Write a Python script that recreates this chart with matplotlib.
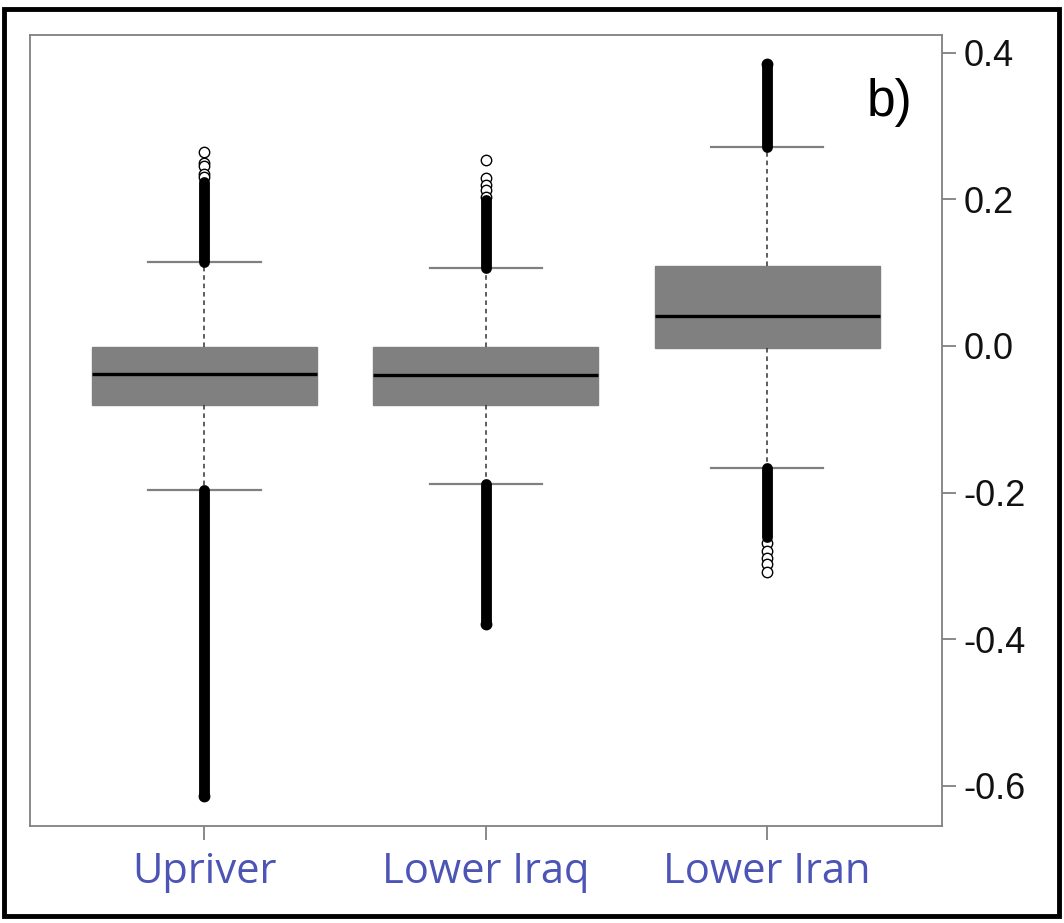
import numpy as np
import matplotlib
matplotlib.use("Agg")
import matplotlib.pyplot as plt
from matplotlib.patches import Rectangle

plt.rcParams['axes.unicode_minus'] = False

# values
labels = ['Upriver', 'Lower Iraq', 'Lower Iran']
q1 = [-0.080, -0.080, -0.003]
med = [-0.039, -0.040, 0.041]
q3 = [-0.001, -0.001, 0.109]
whislo = [-0.196, -0.189, -0.166]
whishi = [0.114, 0.106, 0.272]
# ranges where the outlier circles overlap into a solid column
dense_hi = [(0.114, 0.223), (0.106, 0.199), (0.272, 0.385)]
dense_lo = [(-0.614, -0.196), (-0.380, -0.189), (-0.261, -0.166)]
# separate outlier circles that can be told apart
sparse = [
    [0.264, 0.250, 0.245, 0.235, 0.230, -0.614],
    [0.253, 0.229, 0.219, 0.212, 0.203, -0.380],
    [0.385, -0.269, -0.280, -0.289, -0.298, -0.309],
]
yticks = [-0.6, -0.4, -0.2, 0.0, 0.2, 0.4]

fig = plt.figure(figsize=(10.64, 9.23), dpi=100)
ax = fig.add_axes([0.0282, 0.105, 0.8568, 0.857])

stats = []
for i, name in enumerate(labels):
    stats.append(dict(label=name, q1=q1[i], med=med[i], q3=q3[i],
                      whislo=whislo[i], whishi=whishi[i], fliers=sparse[i]))

grey = '#808080'
ax.bxp(stats, positions=[1, 2, 3], widths=0.8, patch_artist=True,
       boxprops=dict(facecolor=grey, edgecolor=grey, linewidth=1),
       medianprops=dict(color='black', linewidth=2.4),
       whiskerprops=dict(color='#333333', linewidth=1.1, linestyle=(0, (3, 2.5))),
       capprops=dict(color=grey, linewidth=1.6),
       capwidths=0.4,
       flierprops=dict(marker='o', markersize=7.5, markerfacecolor='white',
                       markeredgecolor='black', markeredgewidth=1.0))

# solid columns of overlapping outliers
for i in range(3):
    for lo, hi in (dense_hi[i], dense_lo[i]):
        lc = ax.vlines(i + 1, lo, hi, color='black', linewidth=7.8, zorder=3)
        lc.set_capstyle('round')

ax.set_xlim(0.38, 3.62)
ax.set_ylim(-0.655, 0.424)

ax.yaxis.tick_right()
ax.set_yticks(yticks)
ax.set_yticklabels([f'{v:.1f}' for v in yticks], fontsize=26,
                   family='Liberation Sans', color='#111111')
ax.set_xticks([1, 2, 3])
ax.set_xticklabels(labels, fontsize=30, family='Open Sans', color='#4c54b6')
ax.tick_params(axis='y', length=10, width=1.3, color=grey, pad=6)
ax.tick_params(axis='x', length=10, width=1.3, color=grey, pad=8)
for sp in ax.spines.values():
    sp.set_color(grey)
    sp.set_linewidth(1.3)

ax.text(0.943, 0.915, 'b)', transform=ax.transAxes, fontsize=37,
        family='Liberation Sans', ha='center', va='center')

# black frame around the whole panel
fig.patches.append(Rectangle((0.004, 0.008), 0.991, 0.982, transform=fig.transFigure,
                             fill=False, edgecolor='black', linewidth=3.5))

fig.savefig('out.png', dpi=100)
